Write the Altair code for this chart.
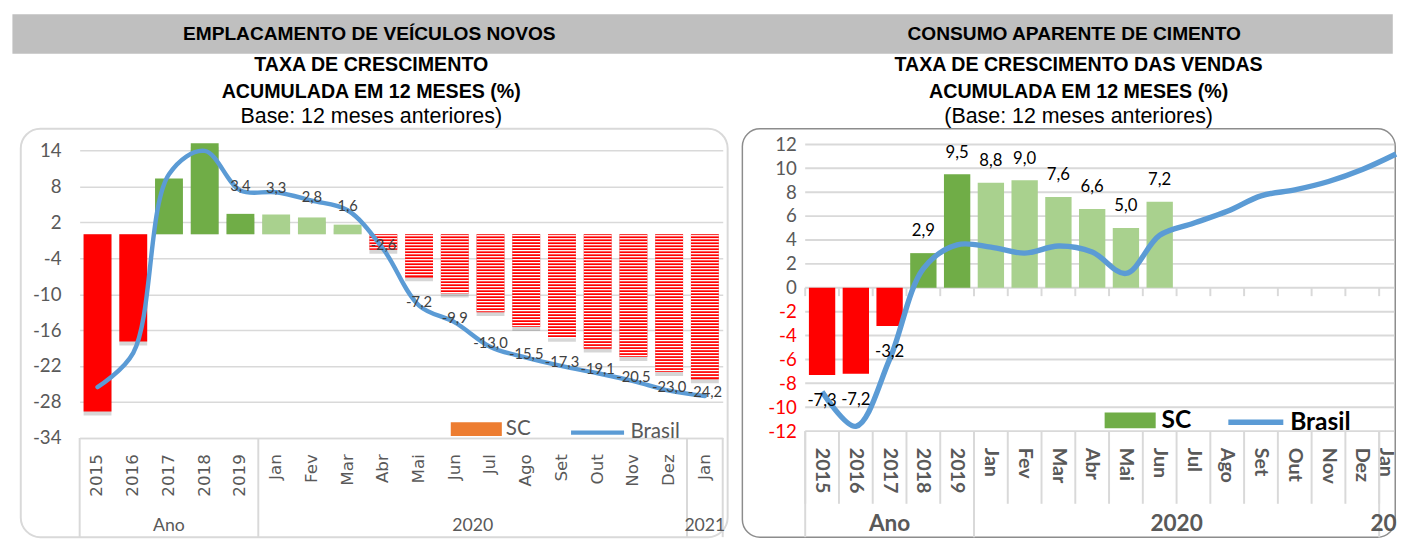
import altair as alt
import pandas as pd

NARROW = "'Liberation Sans Narrow', 'Arial Narrow', 'Liberation Sans', Arial, sans-serif"
CAL = "Lato, 'Open Sans', sans-serif"

# ---------------- data ----------------
categorias = ["2015", "2016", "2017", "2018", "2019", "Jan", "Fev", "Mar", "Abr", "Mai",
              "Jun", "Jul", "Ago", "Set", "Out", "Nov", "Dez", "Jan|2021"]

# Emplacamento de veiculos novos
veic_sc = [-29.6, -17.9, 9.3, 15.2, 3.4, 3.3, 2.8, 1.6, -2.6, -7.2, -9.9, -13.0,
           -15.5, -17.3, -19.1, -20.5, -23.0, -24.2]
veic_brasil = [-25.5, -19.8, 10.0, 13.9, 7.3, 7.0, 5.6, 4.0, -2.5, -11.9, -14.7,
               -18.8, -20.6, -22.0, -23.2, -24.5, -26.1, -27.0]
veic_tipo = ["neg", "neg", "ano", "ano", "ano", "mes", "mes", "mes",
             "hatch", "hatch", "hatch", "hatch", "hatch", "hatch", "hatch", "hatch", "hatch", "hatch"]
veic_rotulo = [False, False, False, False] + [True] * 14
veic_ticks = [14, 8, 2, -4, -10, -16, -22, -28, -34]

# Consumo aparente de cimento
cim_sc = [-7.3, -7.2, -3.2, 2.9, 9.5, 8.8, 9.0, 7.6, 6.6, 5.0, 7.2,
          None, None, None, None, None, None, None]
cim_brasil = [-8.7, -11.6, -6.0, 1.6, 3.6, 3.4, 2.9, 3.5, 3.0, 1.2, 4.4, 5.4,
              6.4, 7.7, 8.2, 8.9, 9.9, 11.2]
cim_tipo = ["neg", "neg", "neg", "ano", "ano", "mes", "mes", "mes", "mes", "mes", "mes",
            "none", "none", "none", "none", "none", "none", "none"]
cim_ticks = [12, 10, 8, 6, 4, 2, 0, -2, -4, -6, -8, -10, -12]

grupo_nomes = ["Ano", "2020", "2021"]
grupo_cats = ["2017", "Jun", "Jan|2021"]
grupo_limites = ["2015", "Jan", "Jan|2021"]

cabecalhos = ["EMPLACAMENTO DE VEÍCULOS NOVOS", "CONSUMO APARENTE DE CIMENTO"]

df_v = pd.DataFrame({"cat": categorias, "sc": veic_sc, "br": veic_brasil,
                     "tipo": veic_tipo, "show": veic_rotulo})
df_c = pd.DataFrame({"cat": categorias, "sc": cim_sc, "br": cim_brasil, "tipo": cim_tipo})
df_g = pd.DataFrame({"g": grupo_nomes, "cat": grupo_cats})
df_lim = pd.DataFrame({"cat": grupo_limites})
df_tk = pd.DataFrame({"v": cim_ticks})

LBL = "replace(replace(format(datum.sc, '.1f'), '.', ','), '\u2212', '-')"

tipo_scale = alt.Scale(domain=["neg", "ano", "mes", "hatch", "none"],
                       range=["#FF0000", "#70AD47", "#A9D18E", "#FF0000", "#FFFFFF"])

H_PANEL = 416


def make_panel(df, W, H, xr, yr, ydom, yticks, axis_x_kw, axis_y_kw, bar_frac,
               line_w, legend_cfg, title, view, left=True):
    step = (xr[1] - xr[0]) / len(categorias)
    xscale = alt.Scale(domain=categorias, range=xr, padding=0)
    if axis_x_kw is None:
        ax_x = None
    else:
        ax_x = alt.Axis(title=None, grid=False, offset=yr[0] - H, ticks=False, **axis_x_kw)
    yscale = alt.Scale(domain=ydom, range=yr, nice=False, zero=False)
    ax_y = alt.Axis(title=None, values=yticks, labelExpr="'' + datum.value", ticks=False,
                    domain=False, labelOverlap=False, gridColor="#D9D9D9", **axis_y_kw)

    def X(bp=None):
        if bp is None:
            return alt.X("cat:N", scale=xscale, axis=ax_x)
        return alt.X("cat:N", scale=xscale, axis=ax_x, bandPosition=bp)

    def Y(f):
        return alt.Y(f, scale=yscale, axis=ax_y)

    base = alt.Chart(df)
    layers = []
    if not left:
        # horizontal grid lines, kept inside the frame
        layers.append(alt.Chart(df_tk).mark_rule(color="#D9D9D9", strokeWidth=2).encode(
            y=Y("v:Q"), x=alt.value(xr[0]), x2=alt.value(W - 1)))
    if left:
        layers.append(base.transform_filter("isValid(datum.sc)").mark_bar(
            width=alt.RelativeBandSize(bar_frac), color="#000000", opacity=0.16, yOffset=4
        ).encode(x=X(), y=Y("sc:Q"), y2=alt.datum(0)))
    layers.append(base.transform_filter("isValid(datum.sc)").mark_bar(
        width=alt.RelativeBandSize(bar_frac)
    ).encode(x=X(), y=Y("sc:Q"), y2=alt.datum(0),
             color=alt.Color("tipo:N", scale=tipo_scale, legend=None)))
    if left:
        layers.append(base.transform_filter("datum.tipo == 'hatch'").transform_calculate(
            st="sequence(-0.25, datum.sc, -0.5)").transform_flatten(["st"]).mark_tick(
            color="white", thickness=1.3, size=step * bar_frac, opacity=1
        ).encode(x=X(), y=Y("st:Q")))
    else:
        # zero axis line ticks
        layers.append(base.mark_rule(color="#D9D9D9", strokeWidth=2).encode(
            x=X(0), y=alt.Y(datum=0, scale=yscale, axis=ax_y), y2=alt.datum(-0.7)))
        # category boxes under the plot
        layers.append(base.mark_rule(color="#D9D9D9", strokeWidth=2).encode(
            x=X(0), y=alt.value(yr[0]), y2=alt.value(yr[0] + 74)))
        # category labels (bold, rotated)
        lab_style = dict(angle=90, align="left", font=CAL, fontSize=20, fontWeight="bold",
                         color="#595959")
        layers.append(base.transform_filter("datum.cat != 'Jan|2021'").mark_text(
            baseline="middle", **lab_style
        ).encode(x=X(), y=alt.value(yr[0] + 17), text="cat:N"))
        # last category label (at the frame edge)
        layers.append(base.transform_filter("datum.cat == 'Jan|2021'").transform_calculate(
            lab="split(datum.cat, '|')[0]").mark_text(baseline="top", **lab_style
        ).encode(x=X(), y=alt.value(yr[0] + 17), text="lab:N"))
    layers.append(base.transform_calculate(serie="'Brasil'").mark_line(
        interpolate="catmull-rom", strokeWidth=line_w, strokeCap="round" if left else "butt"
    ).encode(x=X(), y=Y("br:Q"),
             stroke=alt.Stroke("serie:N", scale=alt.Scale(domain=["Brasil"], range=["#5B9BD5"]),
                               legend=alt.Legend(**legend_cfg["line"]))))
    if left:
        layers.append(base.transform_filter("datum.show").transform_calculate(lbl=LBL).mark_text(
            font=CAL, fontSize=15, color="#404040", dy=-4
        ).encode(x=X(), y=Y("br:Q"), text="lbl:N"))
    else:
        layers.append(base.transform_filter("isValid(datum.sc) && datum.sc >= 0").transform_calculate(
            lbl=LBL).mark_text(font=CAL, fontSize=17, color="#000000", dy=-22
        ).encode(x=X(), y=Y("sc:Q"), text="lbl:N"))
        layers.append(base.transform_filter("isValid(datum.sc) && datum.sc < 0").transform_calculate(
            lbl=LBL).mark_text(font=CAL, fontSize=17, color="#000000", dy=27
        ).encode(x=X(), y=Y("sc:Q"), text="lbl:N"))
    # legend for SC (empty data, explicit domain)
    layers.append(base.transform_filter("datum.cat == '__'").transform_calculate(
        leg="'SC'").mark_point(filled=True, opacity=1, strokeWidth=0,
                               color=legend_cfg["sc_color"]).encode(
        x=X(), y=Y("br:Q"),
        shape=alt.Shape("leg:N", scale=alt.Scale(domain=["SC"], range=[legend_cfg["sc_path"]]),
                        legend=alt.Legend(**legend_cfg["sc"]))))
    # group separators
    lim = alt.Chart(df_lim)
    gcol = "#D9D9D9"
    layers.append(lim.mark_rule(color=gcol, strokeWidth=2).encode(
        x=X(0), y=alt.value(yr[0]), y2=alt.value(H)))
    if left:
        layers.append(lim.transform_filter("datum.cat == 'Jan|2021'").mark_rule(
            color=gcol, strokeWidth=2).encode(x=X(1), y=alt.value(yr[0]), y2=alt.value(H)))
    g = alt.Chart(df_g)
    gstyle = legend_cfg["group_style"]
    gy = legend_cfg["group_y"]
    if left:
        layers.append(g.transform_filter("datum.g != '2020'").mark_text(**gstyle).encode(
            x=X(), y=alt.value(gy), text="g:N"))
    else:
        layers.append(g.transform_filter("datum.g == 'Ano'").mark_text(**gstyle).encode(
            x=X(), y=alt.value(gy), text="g:N"))
        # group label at the frame edge: only its visible part, as in the original
        layers.append(g.transform_filter("datum.g == '2021'").transform_calculate(
            vis="substring(datum.g, 0, 2)").mark_text(
            align="left", dx=-26, **gstyle).encode(
            x=X(), y=alt.value(gy), text="vis:N"))
    layers.append(g.transform_filter("datum.g == '2020'").mark_text(**gstyle).encode(
        x=X(1), y=alt.value(gy), text="g:N"))

    return alt.layer(*layers).properties(width=W, height=H, title=title, view=view)


def titulo(linhas, sub, dx):
    return alt.TitleParams(text=linhas, subtitle=sub, font=NARROW, fontSize=20, fontWeight="bold",
                           color="#000000", lineHeight=28, subtitleFont=NARROW, subtitleFontSize=21.8,
                           subtitleColor="#000000", subtitleFontWeight="normal", subtitlePadding=4,
                           subtitleLineHeight=26, anchor="middle", frame="group", offset=1, dx=dx)


left = make_panel(
    df_v, 720, H_PANEL, [60, 715], [315, 22], [-34, 14], veic_ticks,
    dict(labelAngle=270, labelFont="DejaVu Sans", labelFontSize=17, labelColor="#595959",
         labelPadding=16, domainColor="#D9D9D9", domainWidth=1.5,
         labelExpr="split(datum.label, '|')[0]"),
    dict(labelFont=CAL, labelFontSize=19, labelColor="#595959", labelPadding=19,
         grid=True, gridWidth=1.5, offset=-60),
    0.78, 4.5,
    {
        "line": dict(title=None, orient="none", legendX=558, legendY=280, symbolType="stroke",
                     symbolSize=2916, symbolStrokeWidth=4.5, labelFont=CAL, labelFontSize=21,
                     labelColor="#595959", labelOffset=4, padding=0),
        "sc": dict(title=None, orient="none", legendX=438, legendY=280, symbolSize=2704,
                   symbolStrokeWidth=0, labelFont=CAL, labelFontSize=21, labelColor="#595959",
                   labelOffset=4, padding=0),
        "sc_color": "#ED7D31",
        "sc_path": "M-1,-0.27L1,-0.27L1,0.27L-1,0.27Z",
        "group_style": dict(font=CAL, fontSize=18, color="#595959"),
        "group_y": 405,
    },
    titulo(["TAXA DE CRESCIMENTO", "ACUMULADA EM 12 MESES (%)"], "Base: 12 meses anteriores)", -3),
    alt.ViewBackground(fill="white", stroke="#D9D9D9", strokeWidth=2, cornerRadius=20),
    left=True,
)

right = make_panel(
    df_c, 665, H_PANEL, [64, 683], [308, 16], [-12, 12], cim_ticks,
    None,
    dict(labelFont=CAL, labelFontSize=19, labelPadding=9, grid=False, offset=-64,
         labelColor=alt.condition("datum.value < 0", alt.value("#FF0000"), alt.value("#595959"))),
    0.78, 5.5,
    {
        "line": dict(title=None, orient="none", legendX=492, legendY=268, symbolType="stroke",
                     symbolSize=3136, symbolStrokeWidth=5.5, labelFont=CAL, labelFontSize=25,
                     labelFontWeight="bold", labelColor="#000000", labelOffset=4, padding=0),
        "sc": dict(title=None, orient="none", legendX=369, legendY=271, symbolSize=2704,
                   symbolStrokeWidth=0, labelFont=CAL, labelFontSize=25, labelFontWeight="bold",
                   labelColor="#000000", labelOffset=6, padding=0),
        "sc_color": "#70AD47",
        "sc_path": "M-1,-0.31L1,-0.31L1,0.31L-1,0.31Z",
        "group_style": dict(font=CAL, fontSize=23, fontWeight="bold", color="#595959"),
        "group_y": 403,
    },
    titulo(["TAXA DE CRESCIMENTO DAS VENDAS", "ACUMULADA EM 12 MESES (%)"],
           "(Base: 12 meses anteriores)", 10),
    alt.ViewBackground(fill="white", stroke="#8C8C8C", strokeWidth=1.5, cornerRadius=18),
    left=False,
)

df_h = pd.DataFrame({"t": cabecalhos})
header = alt.layer(
    alt.Chart(df_h).transform_filter(f"datum.t == '{cabecalhos[0]}'").mark_text(
        font=NARROW, fontSize=19.5, fontWeight="bold", color="#000000"
    ).encode(x=alt.value(364), y=alt.value(21), text="t:N"),
    alt.Chart(df_h).transform_filter(f"datum.t == '{cabecalhos[1]}'").mark_text(
        font=NARROW, fontSize=19.5, fontWeight="bold", color="#000000"
    ).encode(x=alt.value(1082), y=alt.value(21), text="t:N"),
).properties(width=1406, height=40,
             view=alt.ViewBackground(fill="#BFBFBF", stroke="transparent"))

spacer = alt.Chart(df_h).mark_point(opacity=0).encode(
    x=alt.value(0), y=alt.value(0)).properties(
    width=7, height=10, view=alt.ViewBackground(stroke="transparent"))

IND = dict(shape="independent", stroke="independent", color="independent")

inner = alt.hconcat(left, right, spacing=13).resolve_scale(**IND).resolve_legend(
    shape="independent", stroke="independent")
row = alt.hconcat(spacer, inner, spacing=0).resolve_scale(**IND).resolve_legend(
    shape="independent", stroke="independent")

chart = alt.vconcat(header, row, spacing=0).resolve_scale(**IND).resolve_legend(
    shape="independent", stroke="independent").configure(
    padding={"left": 0, "top": 0, "right": 0, "bottom": 0})

chart.save("out.html", embed_options={"renderer": "svg", "actions": False})
